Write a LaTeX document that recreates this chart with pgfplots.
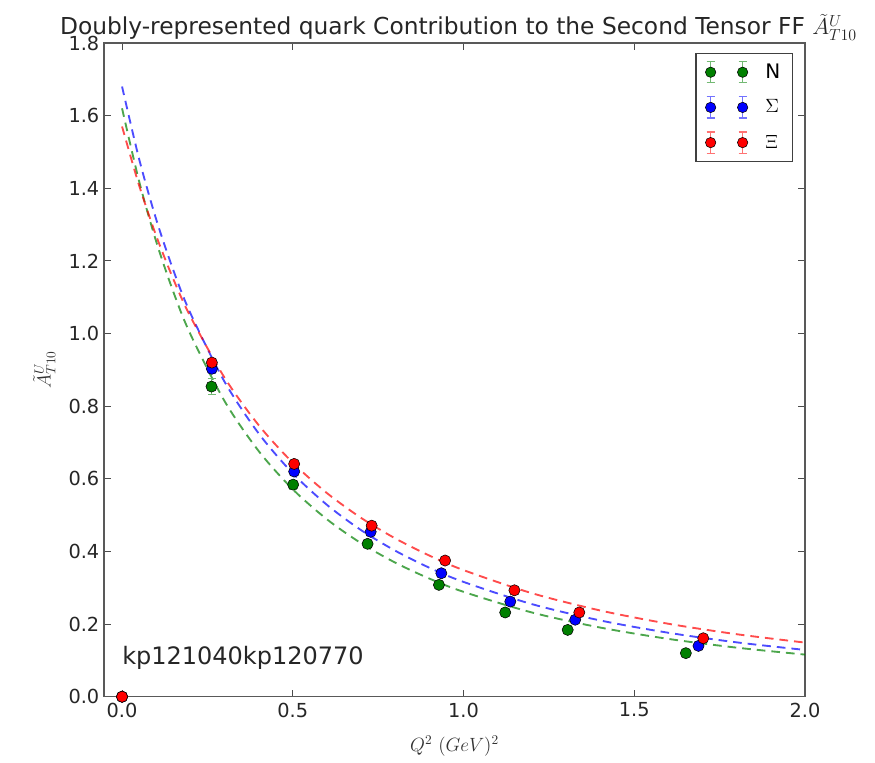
\documentclass[border=0pt]{standalone}
\usepackage{pgfplots}
\pgfplotsset{compat=1.18}
\usepackage{fontspec}
\setmainfont{DejaVu Sans}
\definecolor{mgreen}{rgb}{0,0.5,0}
\definecolor{mblue}{rgb}{0,0,1}
\definecolor{mred}{rgb}{1,0,0}
\newcommand{\legimg}[2]{%
  \foreach \xx in {0pt,24pt}{%
    \draw[#2, line width=0.9pt] (\xx,-8pt)--(\xx,8pt) (\xx-3pt,-8pt)--(\xx+3pt,-8pt) (\xx-3pt,8pt)--(\xx+3pt,8pt);
    \fill[#1, draw=black, line width=0.4pt] (\xx,0) circle (3.9pt);}%
}
\pgfplotstableread{
x y e
0 0 0
0.262 0.854 0.022
0.501 0.584 0.012
0.719 0.421 0.010
0.928 0.308 0.010
1.122 0.232 0.010
1.305 0.184 0.008
1.651 0.120 0.008
}\dataN
\pgfplotstableread{
x y e
0 0 0
0.263 0.903 0.012
0.504 0.620 0.010
0.728 0.454 0.010
0.935 0.340 0.008
1.137 0.262 0.008
1.327 0.212 0.008
1.688 0.140 0.006
}\dataS
\pgfplotstableread{
x y e
0 0 0
0.263 0.920 0.010
0.504 0.641 0.010
0.731 0.471 0.008
0.946 0.375 0.008
1.149 0.293 0.008
1.339 0.232 0.008
1.702 0.161 0.006
}\dataX
\pgfplotstableread{
x y
0 1.62
0.05 1.4191
0.1 1.2534
0.15 1.1152
0.2 0.9985
0.3 0.8142
0.4 0.6765
0.5 0.5711
0.6 0.4885
0.7 0.4226
0.8 0.3692
0.9 0.3253
1.0 0.2888
1.2 0.2320
1.4 0.1905
1.6 0.1592
1.8 0.1351
2.0 0.1160
}\fitN
\pgfplotstableread{
x y
0 1.68
0.05 1.4804
0.1 1.3144
0.15 1.1748
0.2 1.0563
0.3 0.8675
0.4 0.7250
0.5 0.6150
0.6 0.5283
0.7 0.4587
0.8 0.4020
0.9 0.3551
1.0 0.3161
1.2 0.2550
1.4 0.2101
1.6 0.1761
1.8 0.1497
2.0 0.1288
}\fitS
\pgfplotstableread{
x y
0 1.57
0.05 1.4076
0.1 1.2692
0.15 1.1502
0.2 1.0471
0.3 0.8787
0.4 0.7478
0.5 0.6442
0.6 0.5607
0.7 0.4924
0.8 0.4359
0.9 0.3886
1.0 0.3486
1.2 0.2851
1.4 0.2375
1.6 0.2009
1.8 0.1721
2.0 0.1491
}\fitX
\begin{document}
\begin{tikzpicture}
\path[use as bounding box] (-78pt,-49.5pt) rectangle (578.5pt,522.75pt);
\begin{axis}[
  scale only axis, width=526pt, height=490.5pt,
  xmin=-0.053, xmax=2.0, ymin=0, ymax=1.8,
  xtick={0,0.5,1.0,1.5,2.0}, ytick={0,0.2,...,1.8},
  tick align=inside, xtick pos=both, ytick pos=both,
  major tick length=5pt,
  tick style={black!70, line width=0.6pt},
  axis line style={line width=1.1pt, black!65},
  /pgf/number format/assume math mode=true,
  /pgf/number format/.cd, fixed, fixed zerofill, precision=1, /pgfplots/.cd,
  ticklabel style={font=\fontsize{14.5}{16}\selectfont, text=black!85},
  xticklabel style={yshift=-1pt},
  title={Doubly-represented quark Contribution to the Second Tensor FF $\tilde{A}^U_{T10}$},
  title style={at={(0.5,1)}, anchor=base, yshift=0pt, xshift=3pt, font=\fontsize{17.5}{19}\selectfont, text=black!85},
  xlabel={$Q^2\ (GeV)^2$},
  xlabel style={font=\fontsize{14}{16}\selectfont, text=black!80, yshift=-7pt},
  ylabel={$\tilde{A}^U_{T10}$},
  ylabel style={font=\fontsize{14}{16}\selectfont, text=black!80, yshift=3pt},
  legend style={draw=black!75, line width=1pt, at={(1,1)}, xshift=-9pt, yshift=-7.5pt, anchor=north east,
    font=\fontsize{15}{17}\selectfont, row sep=9.5pt, inner xsep=7pt, inner ysep=5.5pt, cells={anchor=west}},
  legend cell align=left,
  error bars/y dir=both, error bars/y explicit,
]
\addlegendimage{legend image code/.code={\legimg{mgreen}{mgreen!55}}}
\addlegendentry{\hspace{11pt}N}
\addlegendimage{legend image code/.code={\legimg{mblue}{mblue!55}}}
\addlegendentry{\hspace{11pt}$\Sigma$}
\addlegendimage{legend image code/.code={\legimg{mred}{mred!55}}}
\addlegendentry{\hspace{11pt}$\Xi$}

\addplot[forget plot, mgreen, opacity=0.7, line width=1.4pt, dash pattern=on 6.5pt off 4.5pt, no marks, smooth] table[x=x,y=y] {\fitN};
\addplot[forget plot, mblue, opacity=0.7, line width=1.4pt, dash pattern=on 6.5pt off 4.5pt, no marks, smooth] table[x=x,y=y] {\fitS};
\addplot[forget plot, mred, opacity=0.7, line width=1.4pt, dash pattern=on 6.5pt off 4.5pt, no marks, smooth] table[x=x,y=y] {\fitX};

\addplot[forget plot, only marks, mark=*, mark size=4.2pt, mark options={fill=mgreen, draw=black, line width=0.4pt},
  error bars/error bar style={mgreen!55, line width=0.8pt}, error bars/error mark options={mgreen!55, line width=0.8pt, mark size=3pt, rotate=90}]
  table[x=x,y=y,y error=e] {\dataN};
\addplot[forget plot, only marks, mark=*, mark size=4.2pt, mark options={fill=mblue, draw=black, line width=0.4pt},
  error bars/error bar style={mblue!55, line width=0.8pt}, error bars/error mark options={mblue!55, line width=0.8pt, mark size=3pt, rotate=90}]
  table[x=x,y=y,y error=e] {\dataS};
\addplot[forget plot, only marks, mark=*, mark size=4.2pt, mark options={fill=mred, draw=black, line width=0.4pt},
  error bars/error bar style={mred!55, line width=0.8pt}, error bars/error mark options={mred!55, line width=0.8pt, mark size=3pt, rotate=90}]
  table[x=x,y=y,y error=e] {\dataX};

\node[anchor=base west, inner sep=0pt, font=\fontsize{18}{20}\selectfont, text=black!85] at (axis cs:0,0.088) {kp121040kp120770};
\end{axis}
\end{tikzpicture}
\end{document}
